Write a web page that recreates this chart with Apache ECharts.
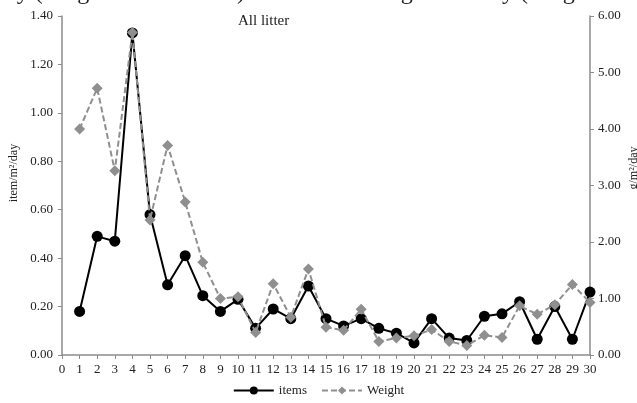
<!DOCTYPE html>
<html>
<head>
<meta charset="utf-8">
<script src="https://cdn.jsdelivr.net/npm/echarts@6/dist/echarts.min.js"></script>
<style>
  html, body { margin: 0; padding: 0; background: #fff; }
  #chart { width: 637px; height: 403px; }
</style>
</head>
<body>
<div id="chart"></div>
<script>
  // day number 1..30
  const days = [1, 2, 3, 4, 5, 6, 7, 8, 9, 10, 11, 12, 13, 14, 15, 16, 17, 18, 19, 20, 21, 22, 23, 24, 25, 26, 27, 28, 29, 30];
  // item/m2/day (left axis)
  const items = [0.18, 0.49, 0.47, 1.33, 0.58, 0.29, 0.41, 0.245, 0.18, 0.23, 0.11, 0.19, 0.15, 0.285, 0.15, 0.12, 0.15, 0.11, 0.09, 0.05, 0.15, 0.07, 0.06, 0.16, 0.17, 0.22, 0.065, 0.20, 0.065, 0.26];
  // g/m2/day (right axis)
  const weight = [4.00, 4.72, 3.26, 5.71, 2.39, 3.71, 2.71, 1.64, 1.00, 1.03, 0.40, 1.26, 0.67, 1.52, 0.49, 0.44, 0.81, 0.24, 0.30, 0.34, 0.45, 0.24, 0.17, 0.35, 0.31, 0.87, 0.72, 0.89, 1.25, 0.93];

  const serif = '"Liberation Serif", "DejaVu Serif", serif';
  const axisGrey = '#8c8c8c';
  const labelColor = '#222';
  const capFont = '24px ' + serif;

  const chart = echarts.init(document.getElementById('chart'), null, { renderer: 'canvas' });
  chart.setOption({
    animation: false,
    backgroundColor: '#fff',
    title: {
      text: 'All litter',
      left: 233,
      top: 9,
      textStyle: { fontFamily: serif, fontSize: 15, fontWeight: 'normal', color: labelColor }
    },
    legend: {
      bottom: 1,
      left: 'center',
      itemWidth: 40,
      itemHeight: 10,
      itemGap: 14,
      textStyle: { fontFamily: serif, fontSize: 13, color: labelColor },
      data: ['items', 'Weight']
    },
    grid: { left: 62, right: 47, top: 16, bottom: 48 },
    xAxis: {
      type: 'value',
      min: 0,
      max: 30,
      interval: 1,
      axisLine: { lineStyle: { color: axisGrey, width: 1.5 } },
      axisTick: { length: 4, lineStyle: { color: axisGrey } },
      axisLabel: { fontFamily: serif, fontSize: 13, color: labelColor, margin: 8 },
      splitLine: { show: false }
    },
    yAxis: [
      {
        type: 'value',
        min: 0,
        max: 1.4,
        interval: 0.2,
        axisLine: { show: true, lineStyle: { color: axisGrey, width: 1.5 } },
        axisTick: { show: true, length: 4, lineStyle: { color: axisGrey } },
        axisLabel: { fontFamily: serif, fontSize: 13, color: labelColor, margin: 9, formatter: (v) => v.toFixed(2) },
        splitLine: { show: false }
      },
      {
        type: 'value',
        min: 0,
        max: 6,
        interval: 1,
        position: 'right',
        axisLine: { show: true, lineStyle: { color: axisGrey, width: 1.5 } },
        axisTick: { show: true, length: 4, lineStyle: { color: axisGrey } },
        axisLabel: { fontFamily: serif, fontSize: 13, color: labelColor, margin: 8, formatter: (v) => v.toFixed(2) },
        splitLine: { show: false }
      }
    ],
    graphic: [
      // axis names
      {
        type: 'text',
        x: 14,
        y: 173,
        rotation: Math.PI / 2,
        style: { text: 'item/m²/day', font: '12px ' + serif, fill: labelColor, align: 'center', verticalAlign: 'middle' }
      },
      {
        type: 'text',
        x: 634,
        y: 168,
        rotation: Math.PI / 2,
        style: { text: 'g/m²/day', font: '12px ' + serif, fill: labelColor, align: 'center', verticalAlign: 'middle' }
      },
      // caption line from the page above, cut off by the image edge
      { type: 'text', x: 10, y: 5, style: { text: 'ly (weight', font: capFont, fill: '#222', verticalAlign: 'bottom' } },
      { type: 'text', x: 245, y: 5, style: { text: 'of items)', font: capFont, fill: '#222', align: 'right', verticalAlign: 'bottom' } },
      { type: 'text', x: 366, y: 5, style: { text: 'weight', font: capFont, fill: '#222', verticalAlign: 'bottom' } },
      { type: 'text', x: 466, y: 5, style: { text: 'daily (weight', font: capFont, fill: '#222', verticalAlign: 'bottom' } }
    ],
    series: [
      {
        name: 'items',
        type: 'line',
        yAxisIndex: 0,
        data: days.map((d, i) => [d, items[i]]),
        symbol: 'circle',
        symbolSize: 11,
        itemStyle: { color: '#000' },
        lineStyle: { color: '#000', width: 2 },
        z: 2
      },
      {
        name: 'Weight',
        type: 'line',
        yAxisIndex: 1,
        data: days.map((d, i) => [d, weight[i]]),
        symbol: 'diamond',
        symbolSize: 11,
        itemStyle: { color: '#8f8f8f' },
        lineStyle: { color: '#8f8f8f', width: 2, type: [6, 3] },
        z: 3
      }
    ]
  });
</script>
</body>
</html>
